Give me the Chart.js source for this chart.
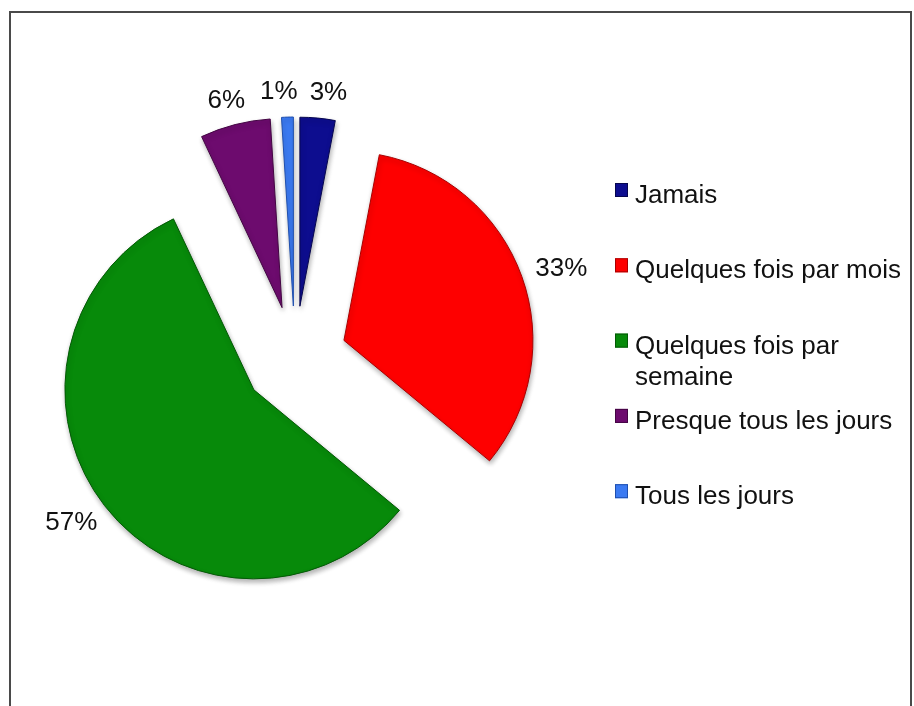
<html>
<head>
<meta charset="utf-8">
<title>Fréquence</title>
<script src="https://cdn.jsdelivr.net/npm/chart.js@4.4.1/dist/chart.umd.min.js"></script>
<style>
body {
margin: 0;
overflow: hidden;
background: #fff;
}
.frame {
position: absolute;
left: 9px;
top: 11px;
width: 899px;
height: 720px;
border: 2px solid #4a4a4a;
border-bottom: none;
}
.holder {
position: absolute;
left: 0;
top: 0;
width: 914px;
height: 706px;
}
</style>
</head>
<body>
<div class="frame"></div>
<div class="holder">
 <canvas id="pieChart" width="914" height="706"></canvas>
</div>
<script>
// data
const categories = ['Jamais', 'Quelques fois par mois', 'Quelques fois par semaine', 'Presque tous les jours', 'Tous les jours'];
const percents = [3, 33, 57, 6, 1];
const sliceColors = ['#0d0d8f', '#fe0000', '#078a0a', '#6d0b6e', '#3b7af2'];
const edgeColors = ['#06064f', '#a80000', '#045906', '#430543', '#1f4fae'];

const FONT = '26px "Liberation Sans", Arial, sans-serif';
const EXPLODE = 52;

// pull every slice away from the centre along its mid angle, with a soft shadow
const explodePlugin = {
    id: 'explode',
    beforeDatasetsDraw(chart) {
        const ca = chart.chartArea;
        const cx = (ca.left + ca.right) / 2;
        const cy = (ca.top + ca.bottom) / 2;
        chart.getDatasetMeta(0).data.forEach(arc => {
            const mid = (arc.startAngle + arc.endAngle) / 2;
            arc.x = cx + Math.cos(mid) * EXPLODE;
            arc.y = cy + Math.sin(mid) * EXPLODE;
        });
        const c = chart.ctx;
        c.save();
        c.shadowColor = 'rgba(0,0,0,0.3)';
        c.shadowBlur = 5;
        c.shadowOffsetX = 1;
        c.shadowOffsetY = 3;
    },
    afterDatasetsDraw(chart) {
        chart.ctx.restore();
    }
};

// percentage labels outside each slice, nudged apart when they collide
const labelPlugin = {
    id: 'outsideLabels',
    afterDatasetsDraw(chart) {
        const ctx = chart.ctx;
        ctx.save();
        ctx.font = FONT;
        ctx.fillStyle = '#111';
        ctx.textAlign = 'center';
        ctx.textBaseline = 'middle';
        const h = 20, gap = 12;
        const boxes = chart.getDatasetMeta(0).data.map((arc, i) => {
            const mid = (arc.startAngle + arc.endAngle) / 2;
            const dx = Math.cos(mid), dy = Math.sin(mid);
            const txt = percents[i] + '%';
            const w = ctx.measureText(txt).width;
            const R = arc.outerRadius + 16;
            return {
                txt: txt,
                w: w,
                x: arc.x + dx * R + dx * w / 2,
                y: arc.y + dy * R + dy * h / 2
            };
        });
        const sorted = boxes.slice().sort((a, b) => a.x - b.x);
        for (let k = 1; k < sorted.length; k++) {
            const a = sorted[k - 1], b = sorted[k];
            if (Math.abs(a.y - b.y) > h) continue;
            const need = a.w / 2 + b.w / 2 + gap - (b.x - a.x);
            if (need > 0) {
                a.x -= need / 2;
                b.x += need / 2;
            }
        }
        boxes.forEach(b => ctx.fillText(b.txt, b.x, b.y + 1));
        ctx.restore();
    }
};

// legend on the right, drawn from the categories
const legendPlugin = {
    id: 'sideLegend',
    afterDraw(chart) {
        const ctx = chart.ctx;
        ctx.save();
        ctx.font = FONT;
        ctx.fillStyle = '#111';
        ctx.textBaseline = 'alphabetic';
        const left = 635, top = 203, step = 75.3, lineH = 31, maxW = 275;
        categories.forEach((name, i) => {
            const words = name.split(' ');
            let lines = [], cur = '';
            words.forEach(wd => {
                const test = cur ? cur + ' ' + wd : wd;
                if (ctx.measureText(test).width > maxW && cur) {
                    lines.push(cur);
                    cur = wd;
                } else {
                    cur = test;
                }
            });
            lines.push(cur);
            const base = top + step * i;
            // marker
            ctx.fillStyle = sliceColors[i];
            ctx.fillRect(615, base - 20, 13, 14);
            ctx.strokeStyle = edgeColors[i];
            ctx.lineWidth = 1;
            ctx.strokeRect(615.5, base - 19.5, 12, 13);
            ctx.fillStyle = '#111';
            lines.forEach((ln, k) => ctx.fillText(ln, left, base + k * lineH));
        });
        ctx.restore();
    }
};

const ctx = document.getElementById('pieChart').getContext('2d');
const pieChart = new Chart(ctx, {
    type: 'pie',
    data: {
        labels: categories,
        datasets: [{
            data: percents,
            backgroundColor: sliceColors,
            borderColor: edgeColors,
            borderWidth: 1,
            borderJoinStyle: 'round',
            radius: 189
        }]
    },
    options: {
        responsive: false,
        animation: false,
        layout: {
            padding: { left: 0, right: 324, top: 10, bottom: 0 }
        },
        plugins: {
            legend: { display: false },
            tooltip: { enabled: false }
        }
    },
    plugins: [explodePlugin, labelPlugin, legendPlugin]
});
</script>
</body>
</html>
